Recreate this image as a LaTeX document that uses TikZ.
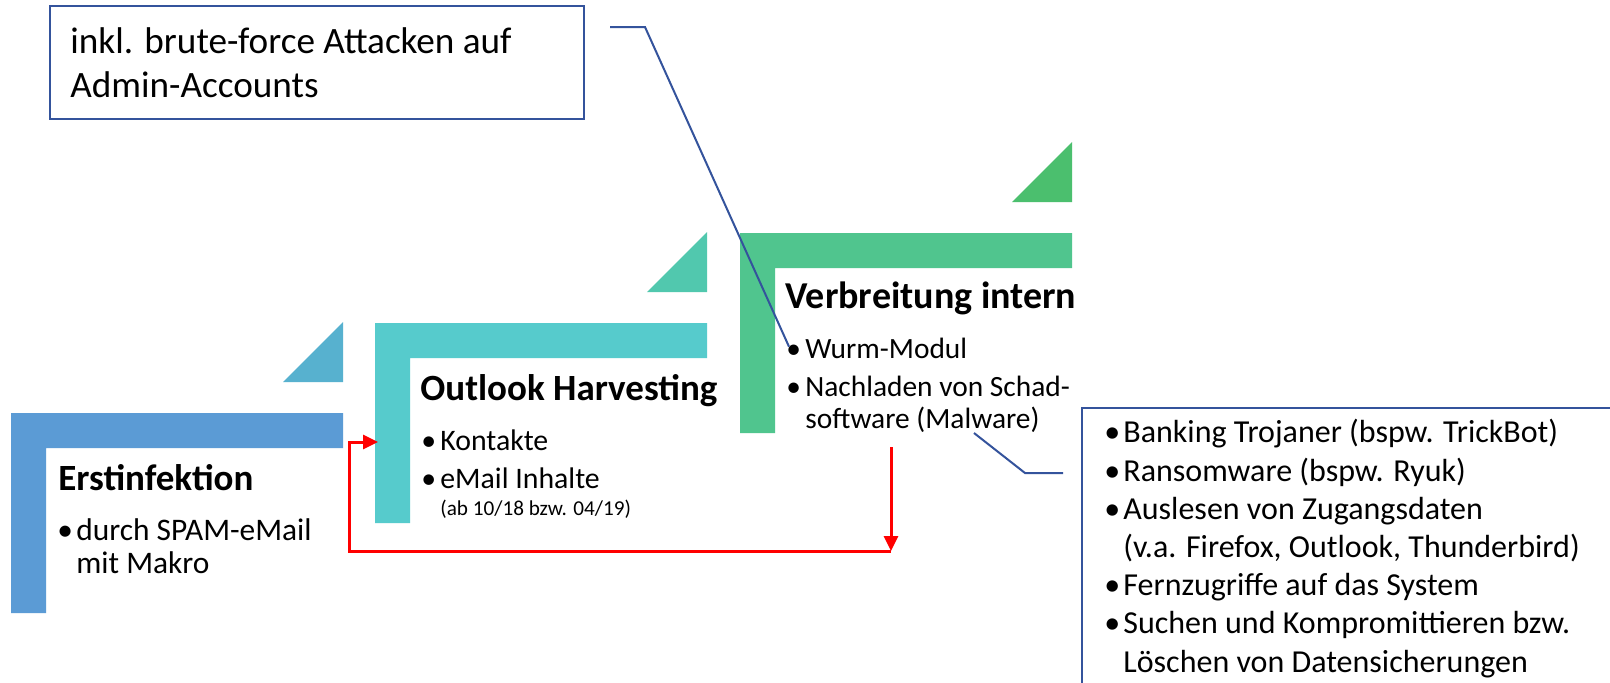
\documentclass[tikz,border=0pt]{standalone}
\usepackage{fontspec}
\setmainfont{Carlito}
\usetikzlibrary{arrows.meta}
\definecolor{stageA}{HTML}{5B9BD5}
\definecolor{stageAtip}{HTML}{57B1CF}
\definecolor{stageB}{HTML}{56CBCC}
\definecolor{stageBtip}{HTML}{51C8AE}
\definecolor{stageC}{HTML}{50C58E}
\definecolor{stageCtip}{HTML}{4BBF6E}
\definecolor{calloutblue}{HTML}{34539C}
\newcommand{\itm}{\makebox[9.5pt][l]{\textbullet}}
\newcommand{\cont}{\hspace*{9.5pt}}

\begin{document}
\begin{tikzpicture}[x=0.5pt, y=-0.5pt,
  head/.style={anchor=base west, inner sep=0pt, font=\fontsize{18.5}{22}\selectfont\bfseries},
  body/.style={anchor=base west, inner sep=0pt, align=left, font=\fontsize{15}{16}\selectfont},
  side/.style={anchor=base west, inner sep=0pt, font=\fontsize{10.6}{12}\selectfont},
  note/.style={anchor=base west, inner sep=0pt, align=left, font=\fontsize{18.6}{22}\selectfont},
  list/.style={anchor=base west, inner sep=0pt, align=left, font=\fontsize{16}{19.1}\selectfont},
  frame/.style={draw=calloutblue, line width=1.2pt, anchor=north west, inner sep=0pt},
  callout/.style={draw=calloutblue, line width=1pt},
  loopline/.style={draw=red, line width=1.5pt, -{Triangle[length=7.5pt, width=7pt]}}]
\clip (0,0) rectangle (1610,682);
\fill[white] (0,0) rectangle (1610,682);

\foreach \x/\y/\cbar/\ctip in {11/413/stageA/stageAtip, 375/323/stageB/stageBtip, 740/233/stageC/stageCtip} {
  \fill[\cbar] (\x,\y) -- ++(332,0) -- ++(0,35) -- ++(-297,0) -- ++(0,165) -- ++(-35,0) -- cycle;
  \fill[\ctip] (\x+332,\y-31) -- ++(0,-60) -- ++(-60,60) -- cycle;
}

\node[head] (erst) at (58,490) {Erstinfektion};
\node[body, font=\fontsize{15.7}{16.5}\selectfont] (spam) at (57,573) {\itm durch SPAM-eMail\\\cont mit Makro};

\node[head] (outlook) at (420,400) {Outlook Harvesting};
\node[body, font=\fontsize{14.9}{16}\selectfont] (harvest) at (421,488) {\itm Kontakte\\[2.75pt]\itm eMail Inhalte};
\node[side] (dates) at (440,515) {(ab 10/18 bzw. 04/19)};

\node[head, font=\fontsize{19}{22}\selectfont\bfseries] (verb) at (785,308) {Verbreitung intern};
\node[body, font=\fontsize{14.7}{16}\selectfont] (spread) at (786,428) {\itm Wurm-Modul\\[2.75pt]\itm Nachladen von Schad-\\\cont software (Malware)};

\node[frame, minimum width=267pt, minimum height=56.5pt] (hintbox) at (49,5) {};
\node[note] (hint) at (70,97) {inkl. brute-force Attacken auf\\Admin-Accounts};

\node[frame, minimum width=300pt, minimum height=150pt] (payloadbox) at (1081,407) {};
\node[list] (payload) at (1104,672) {\itm Banking Trojaner (bspw. TrickBot)\\\itm Ransomware (bspw. Ryuk)\\\itm Auslesen von Zugangsdaten\\\cont (v.a. Firefox, Outlook, Thunderbird)\\\itm Fernzugriffe auf das System\\\itm Suchen und Kompromittieren bzw.\\\cont Löschen von Datensicherungen};

\coordinate (hintend) at (610,27);
\coordinate (malw) at (974,433);
\coordinate (payloadend) at (1063,473);
\draw[callout] (hintend) -- (645,27) -- ([shift={(3,9)}]spread.north west);
\draw[callout] (malw) -- (1025,473) -- (payloadend);

\coordinate (drop) at (891,447);
\coordinate (turn) at (891,551);
\coordinate (entry) at (378,442);
\draw[loopline] (drop) -- (turn);
\draw[loopline] (turn) -- (349,551) -- (349,442) -- (entry);
\end{tikzpicture}
\end{document}
